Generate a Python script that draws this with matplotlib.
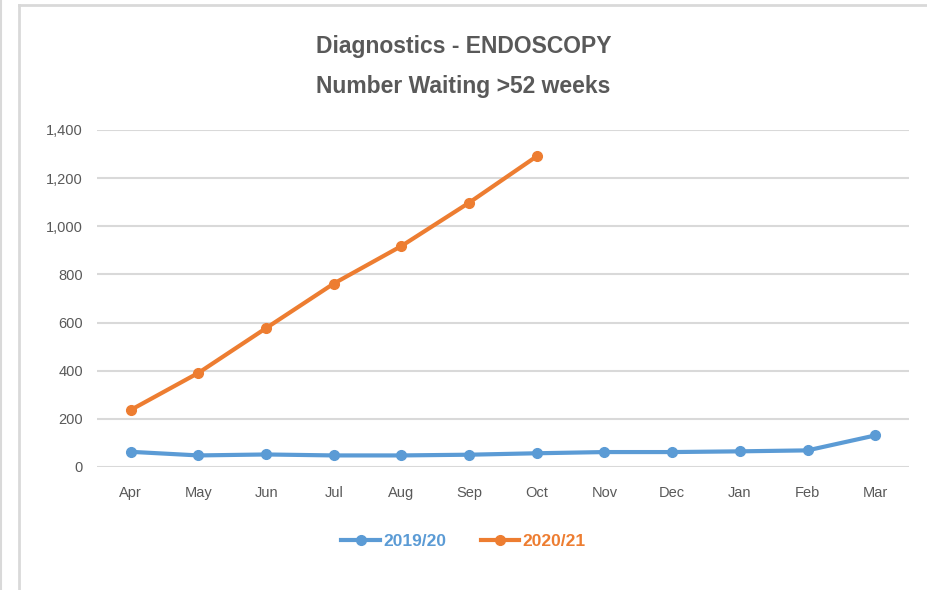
import matplotlib.pyplot as plt
from matplotlib.lines import Line2D

months = ["Apr", "May", "Jun", "Jul", "Aug", "Sep", "Oct", "Nov", "Dec", "Jan", "Feb", "Mar"]
waiting_1920 = [63, 48, 52, 48, 48, 51, 57, 62, 62, 65, 69, 131]
waiting_2021 = [237, 391, 577, 762, 918, 1098, 1291]
yticks = [0, 200, 400, 600, 800, 1000, 1200, 1400]

blue = "#5B9BD5"
orange = "#ED7D31"
grey = "#595959"

plt.rcParams["font.family"] = ["Liberation Sans", "DejaVu Sans"]

fig = plt.figure(figsize=(9.27, 5.9), dpi=100)
ax = fig.add_axes([0.1046, 0.2085, 0.876, 0.5712])

x = list(range(len(months)))
ax.plot(x, waiting_1920, "-o", color=blue, lw=3, ms=7, label="2019/20")
ax.plot(x[:len(waiting_2021)], waiting_2021, "-o", color=orange, lw=3, ms=7, label="2020/21")

ax.set_xlim(-0.5, len(months) - 0.5)
ax.set_ylim(0, 1400)
ax.set_yticks(yticks)
ax.set_yticklabels([f"{v:,}" for v in yticks])
ax.set_xticks(x)
ax.set_xticklabels(months)
ax.tick_params(length=0, labelsize=10.5, colors=grey, pad=10)
ax.tick_params(axis="x", pad=14)
ax.grid(axis="y", color="#D9D9D9", lw=1.5)
ax.set_axisbelow(True)
for s in ax.spines.values():
    s.set_visible(False)

fig.text(0.5, 0.922, "Diagnostics - ENDOSCOPY", ha="center", va="center",
         fontsize=16.5, fontweight="bold", color=grey)
fig.text(0.5, 0.853, "Number Waiting >52 weeks", ha="center", va="center",
         fontsize=16.5, fontweight="bold", color=grey)

leg = fig.legend(loc="center", bbox_to_anchor=(0.5, 0.083), ncol=2, frameon=False,
                 fontsize=12.5, handlelength=2.2, columnspacing=2.0, handletextpad=0.2)
for txt, c in zip(leg.get_texts(), [blue, orange]):
    txt.set_color(c)
    txt.set_fontweight("bold")

# screenshot frame
fig.add_artist(Line2D([0.0205, 0.0205], [0, 0.992], transform=fig.transFigure, color="#D9D9D9", lw=2))
fig.add_artist(Line2D([0.0205, 1], [0.992, 0.992], transform=fig.transFigure, color="#D9D9D9", lw=2))
fig.add_artist(Line2D([0.001, 0.001], [0, 1], transform=fig.transFigure, color="#D9D9D9", lw=1.5))

fig.savefig("out.png", dpi=100)
